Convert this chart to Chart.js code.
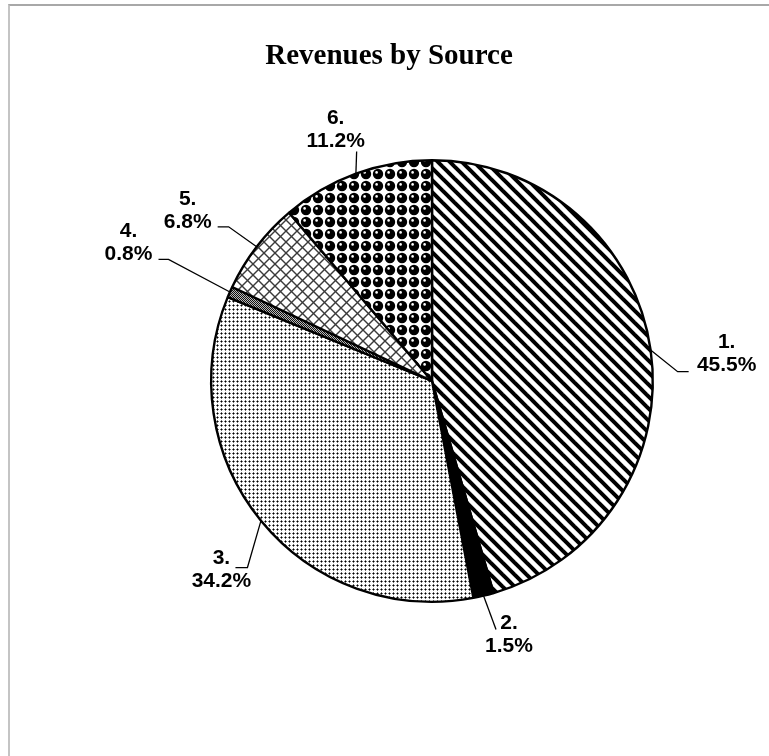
<!DOCTYPE html>
<html>
<head>
<meta charset="utf-8">
<title>Revenues by Source</title>
<script src="https://cdn.jsdelivr.net/npm/chart.js@4.4.1/dist/chart.umd.min.js"></script>
<style>
    html, body { margin: 0; padding: 0; background: #fff; overflow: hidden; }
    #frame {
        position: absolute; left: 8px; top: 4px; width: 900px; height: 900px;
        border-top: 2px solid #a8a8a8; border-left: 2px solid #c4c4c4;
    }
    #wrap { position: absolute; left: 0; top: 0; width: 769px; height: 756px; }
</style>
</head>
<body>
<div id="frame"></div>
<div id="wrap"><canvas id="revenue-pie"></canvas></div>
<script>
// chart data
const chartTitle = 'Revenues by Source';
const sourceLabels = ['1.', '2.', '3.', '4.', '5.', '6.'];
const sourceShares = [45.5, 1.5, 34.2, 0.8, 6.8, 11.2];

const canvas = document.getElementById('revenue-pie');
const ctx = canvas.getContext('2d');

// small tiles used as black & white fill patterns
function makePattern(size, draw) {
    const tile = document.createElement('canvas');
    tile.width = size;
    tile.height = size;
    const g = tile.getContext('2d');
    g.fillStyle = '#fff';
    g.fillRect(0, 0, size, size);
    draw(g, size);
    return ctx.createPattern(tile, 'repeat');
}

const stripes = makePattern(12, (g, s) => {
    g.strokeStyle = '#000';
    g.lineWidth = 4;
    for (let k = -1; k <= 1; k++) {
        g.beginPath();
        g.moveTo(k * s - 2, -2);
        g.lineTo(k * s + s + 2, s + 2);
        g.stroke();
    }
});

const fineDots = makePattern(4, (g) => {
    g.fillStyle = '#707070';
    g.fillRect(1, 0, 1, 3);
    g.fillRect(0, 1, 3, 1);
    g.fillStyle = '#000';
    g.fillRect(1, 1, 1, 1);
});

const darkDots = makePattern(2, (g) => {
    g.fillStyle = '#bbb';
    g.fillRect(0, 0, 2, 2);
    g.fillStyle = '#111';
    g.fillRect(0, 0, 1, 1);
    g.fillRect(1, 1, 1, 1);
});

const lattice = makePattern(11, (g, s) => {
    g.strokeStyle = '#3a3a3a';
    g.lineWidth = 1.4;
    for (let k = -1; k <= 2; k++) {
        g.beginPath();
        g.moveTo(k * s - 2, -2);
        g.lineTo(k * s + s + 2, s + 2);
        g.stroke();
        g.beginPath();
        g.moveTo(k * s + 2, -2);
        g.lineTo(k * s - s - 2, s + 2);
        g.stroke();
    }
});

const spheres = makePattern(12, (g) => {
    g.fillStyle = '#000';
    g.beginPath();
    g.arc(6, 6, 5.2, 0, Math.PI * 2);
    g.fill();
    g.fillStyle = '#fff';
    g.beginPath();
    g.arc(4.6, 4.4, 1.3, 0, Math.PI * 2);
    g.fill();
});

const sliceFills = [stripes, '#000', fineDots, darkDots, lattice, spheres];

// where each data label sits, relative to its slice
const labelLayout = [
    { turn: 2.9, dist: 1.34, elbow: [-49, 17.5], tail: [-38, 17.5] },
    { turn: -3.4, dist: 1.20, elbow: [-13, -5], tail: null },
    { turn: -2.6, dist: 1.28, elbow: [26, -2], tail: [14, -2] },
    { turn: 0.7, dist: 1.51, elbow: [40, 16.5], tail: [30, 16.5] },
    { turn: -2.5, dist: 1.35, elbow: [41, 16.5], tail: [30, 16.5] },
    { turn: -0.8, dist: 1.22, elbow: [21, 22], tail: null }
];

const sliceLabelPlugin = {
    id: 'sliceLabels',
    afterDatasetsDraw(chart) {
        const c = chart.ctx;
        const arcs = chart.getDatasetMeta(0).data;
        c.save();
        c.strokeStyle = '#000';
        c.lineWidth = 1.3;
        c.fillStyle = '#000';
        c.font = 'bold 21px "Liberation Sans", Arial, sans-serif';
        c.textAlign = 'center';
        c.textBaseline = 'middle';
        arcs.forEach((arc, i) => {
            const { x, y, startAngle, endAngle, outerRadius } = arc.getProps(['x', 'y', 'startAngle', 'endAngle', 'outerRadius'], true);
            const place = labelLayout[i];
            const mid = (startAngle + endAngle) / 2;
            const a = mid + place.turn * Math.PI / 180;
            const lx = x + Math.cos(a) * outerRadius * place.dist;
            const ly = y + Math.sin(a) * outerRadius * place.dist;

            // leader line from the slice edge to the label
            c.beginPath();
            c.moveTo(x + Math.cos(mid) * outerRadius, y + Math.sin(mid) * outerRadius);
            c.lineTo(lx + place.elbow[0], ly + place.elbow[1]);
            if (place.tail) {
                c.lineTo(lx + place.tail[0], ly + place.tail[1]);
            }
            c.stroke();

            c.fillText(sourceLabels[i], lx, ly - 11.5);
            c.fillText(sourceShares[i].toFixed(1) + '%', lx, ly + 11.5);
        });
        c.restore();
    },
    afterDraw(chart) {
        const c = chart.ctx;
        c.save();
        c.fillStyle = '#000';
        c.font = 'bold 29px "Liberation Serif", "Times New Roman", serif';
        c.textAlign = 'center';
        c.textBaseline = 'middle';
        c.fillText(chartTitle, 389, 57);
        c.restore();
    }
};

new Chart(canvas, {
    type: 'pie',
    data: {
        labels: sourceLabels,
        datasets: [{
            data: sourceShares,
            backgroundColor: sliceFills,
            borderColor: '#000',
            borderWidth: 2.4
        }]
    },
    options: {
        responsive: true,
        maintainAspectRatio: false,
        animation: false,
        layout: {
            padding: { left: 210, right: 115, top: 159, bottom: 153 }
        },
        plugins: {
            legend: { display: false },
            tooltip: { enabled: false },
            title: { display: false }
        }
    },
    plugins: [sliceLabelPlugin]
});
</script>
</body>
</html>
